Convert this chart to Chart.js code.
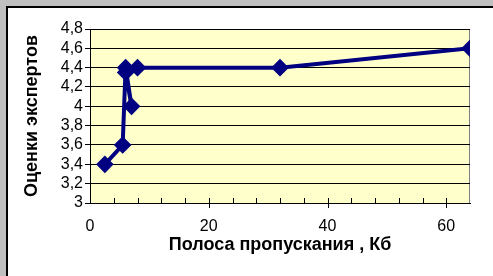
<!DOCTYPE html>
<html>
<head>
<meta charset="utf-8">
<script src="https://cdn.jsdelivr.net/npm/chart.js@4/dist/chart.umd.min.js"></script>
<style>
  html, body { margin: 0; padding: 0; background: #c0c0c0; }
  #wrap { position: relative; width: 493px; height: 276px; overflow: hidden; }
  #frame { position: absolute; left: 6px; top: 6px; width: 500px; height: 300px;
           background: #fff; border-left: 2px solid #000; border-top: 2px solid #000; }
  canvas { position: absolute; left: 0; top: 0; }
</style>
</head>
<body>
<div id="wrap">
  <div id="frame"></div>
  <canvas id="myChart" width="493" height="276"></canvas>
</div>
<script>
const bandwidth = [2.5, 5.5, 6, 7, 6, 8, 32, 64];
const scores = [3.4, 3.6, 4.4, 4.0, 4.35, 4.4, 4.4, 4.6];
const xTicks = [0, 20, 40, 60];
const yTicks = [3, 3.2, 3.4, 3.6, 3.8, 4, 4.2, 4.4, 4.6, 4.8];

const FONT = '"Liberation Sans", Arial, sans-serif';

// yellow plot background, grey plot border, x tick marks (major cross the axis, minor inside)
const plotDeco = {
  id: 'plotDeco',
  beforeDraw(chart) {
    const { ctx, chartArea: a } = chart;
    ctx.save();
    ctx.fillStyle = '#ffffcc';
    ctx.fillRect(a.left, a.top, a.right - a.left, a.bottom - a.top);
    ctx.strokeStyle = '#808080';
    ctx.lineWidth = 1;
    ctx.beginPath();
    ctx.moveTo(a.left, a.top + 0.5);
    ctx.lineTo(a.right - 0.5, a.top + 0.5);
    ctx.lineTo(a.right - 0.5, a.bottom);
    ctx.stroke();
    ctx.restore();
  },
  beforeDatasetsDraw(chart) {
    const { ctx, chartArea: a, scales } = chart;
    ctx.save();
    ctx.strokeStyle = '#000';
    ctx.lineWidth = 1;
    for (let v = 4; v < 64; v += 4) {
      const px = Math.round(scales.x.getPixelForValue(v)) + 0.5;
      const major = v % 20 === 0;
      ctx.beginPath();
      ctx.moveTo(px, a.bottom - 5);
      ctx.lineTo(px, a.bottom + (major ? 5 : 0));
      ctx.stroke();
    }
    ctx.restore();
  }
};

const ctx = document.getElementById('myChart').getContext('2d');
const chart = new Chart(ctx, {
  type: 'scatter',
  data: {
    datasets: [{
      data: bandwidth.map((x, i) => ({ x: x, y: scores[i] })),
      showLine: true,
      borderColor: '#000080',
      backgroundColor: '#000080',
      borderWidth: 4,
      pointStyle: 'rectRot',
      pointRadius: 6,
      pointHoverRadius: 6,
      tension: 0
    }]
  },
  options: {
    responsive: false,
    animation: false,
    events: [],
    layout: { padding: { left: 0, top: 29, right: 23, bottom: 0 } },
    plugins: { legend: { display: false }, tooltip: { enabled: false } },
    scales: {
      x: {
        type: 'linear',
        min: 0,
        max: 64,
        afterBuildTicks: s => { s.ticks = xTicks.map(v => ({ value: v })); },
        afterFit: s => { s.height = 73; },
        grid: { display: false },
        border: { display: true, color: '#000', width: 1 },
        ticks: { color: '#000', font: { family: FONT, size: 16 }, padding: 6, maxRotation: 0, autoSkip: false },
        title: {
          display: true,
          text: 'Полоса пропускания , Кб',
          color: '#000',
          font: { family: FONT, size: 18, weight: 'bold' },
          padding: { top: 0, bottom: 20 }
        }
      },
      y: {
        min: 3,
        max: 4.8,
        afterBuildTicks: s => { s.ticks = yTicks.map(v => ({ value: v })); },
        afterFit: s => { s.width = 90; },
        grid: { color: '#000', lineWidth: 1, drawTicks: true, tickLength: 5, tickColor: '#000' },
        border: { display: true, color: '#000', width: 1 },
        ticks: {
          color: '#000',
          font: { family: FONT, size: 16 },
          padding: 2,
          autoSkip: false,
          callback: v => String(Math.round(v * 10) / 10).replace('.', ',')
        },
        title: {
          display: true,
          text: 'Оценки экспертов',
          color: '#000',
          font: { family: FONT, size: 18, weight: 'bold' },
          padding: { top: 21, bottom: 0 }
        }
      }
    }
  },
  plugins: [plotDeco]
});
</script>
</body>
</html>
